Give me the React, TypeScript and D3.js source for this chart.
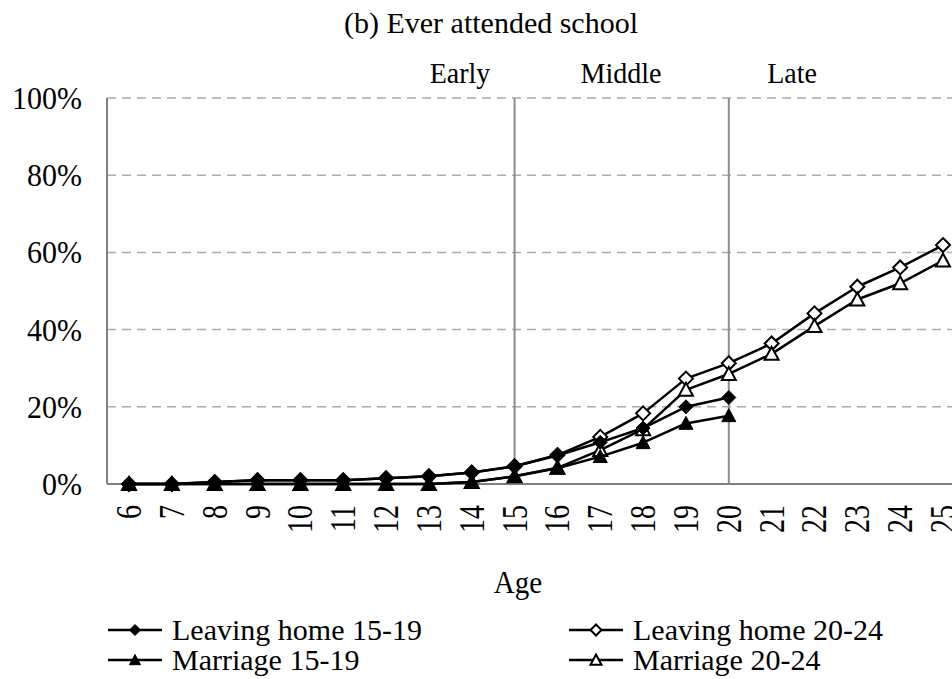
import React from "react";
import * as d3 from "d3";

const ages = [6, 7, 8, 9, 10, 11, 12, 13, 14, 15, 16, 17, 18, 19, 20, 21, 22, 23, 24, 25];
const leaving1519 = [0, 0, 0.5, 1, 1, 1, 1.5, 2, 3, 4.6, 7.4, 10.8, 14.5, 20, 22.4];
const leaving2024 = [0, 0, 0.5, 1, 1, 1, 1.5, 2, 3, 4.6, 7.5, 12.2, 18.3, 27.3, 31.3, 36.4, 44.2, 51.1, 56.1, 61.9];
const marriage1519 = [0, 0, 0, 0, 0, 0, 0, 0, 0.5, 2, 4.1, 7.1, 10.7, 15.7, 17.7];
const marriage2024 = [0, 0, 0, 0, 0, 0, 0, 0, 0.5, 2, 4.2, 8.8, 14.2, 24.4, 28.5, 33.7, 40.9, 47.8, 52, 57.9];
const yTicks = [0, 20, 40, 60, 80, 100];
const stageLabels = ["Early", "Middle", "Late"];
const stageCenters = [460, 621, 792];
const stageBounds = [15, 20];

type Series = { name: string; values: number[]; shape: "diamond" | "triangle"; filled: boolean };
const series: Series[] = [
  { name: "Leaving home 20-24", values: leaving2024, shape: "diamond", filled: false },
  { name: "Marriage 20-24", values: marriage2024, shape: "triangle", filled: false },
  { name: "Leaving home 15-19", values: leaving1519, shape: "diamond", filled: true },
  { name: "Marriage 15-19", values: marriage1519, shape: "triangle", filled: true },
];
const legendOrder = ["Leaving home 15-19", "Leaving home 20-24", "Marriage 15-19", "Marriage 20-24"];

const FONT = "'Liberation Serif', 'Times New Roman', serif";

function Marker({ x, y, shape, filled, size }: { x: number; y: number; shape: string; filled: boolean; size: number }) {
  const h = size / 2;
  const d =
    shape === "diamond"
      ? `M${x},${y - h}L${x + h},${y}L${x},${y + h}L${x - h},${y}Z`
      : `M${x},${y - h}L${x + h},${y + h * 0.85}L${x - h},${y + h * 0.85}Z`;
  return <path d={d} fill={filled ? "#000" : "#fff"} stroke="#000" strokeWidth={filled ? 1 : 2} strokeLinejoin="miter" />;
}

export default function App() {
  const W = 952, H = 679;
  const x = d3.scalePoint<number>().domain(ages).range([129, 943]);
  const y = d3.scaleLinear().domain([0, 100]).range([484, 98]);
  const left = 107;
  const line = d3
    .line<number>()
    .x((_, i) => x(ages[i]) as number)
    .y((v) => y(v));

  return (
    <svg width={W} height={H} style={{ position: "absolute", left: 0, top: 0, background: "#fff" }} fontFamily={FONT}>
      <rect width={W} height={H} fill="#fff" />
      {yTicks.filter((t) => t > 0).map((t) => (
        <line key={t} x1={left} x2={W} y1={y(t)} y2={y(t)} stroke="#ababab" strokeWidth={1.5} strokeDasharray="9,6" />
      ))}
      <line x1={left} x2={left} y1={y(100)} y2={y(0)} stroke="#808080" strokeWidth={2} />
      <line x1={left} x2={W} y1={y(0)} y2={y(0)} stroke="#808080" strokeWidth={2} />
      {stageBounds.map((a) => (
        <line key={a} x1={x(a)} x2={x(a)} y1={y(100)} y2={y(0)} stroke="#8c8c8c" strokeWidth={2} />
      ))}
      {yTicks.map((t) => (
        <text key={t} transform={`translate(82,${y(t) + 11}) scale(1,1.08)`} textAnchor="end" fontSize={30} fill="#000">
          {t}%
        </text>
      ))}
      {ages.map((a) => (
        <text
          key={a}
          transform={`translate(${(x(a) as number) + 12},505) scale(1.3,1) rotate(-90)`}
          textAnchor="end"
          fontSize={28}
          fill="#000"
        >
          {a}
        </text>
      ))}
      <text x={491} y={33} textAnchor="middle" fontSize={30} fill="#000">
        (b) Ever attended school
      </text>
      {stageLabels.map((s, i) => (
        <text key={s} transform={`translate(${stageCenters[i]},83) scale(1,1.05)`} textAnchor="middle" fontSize={28} fill="#000">
          {s}
        </text>
      ))}
      <text transform="translate(518,593) scale(1,1.1)" textAnchor="middle" fontSize={29} fill="#000">
        Age
      </text>
      {series.map((s) => (
        <g key={s.name}>
          <path d={line(s.values) || ""} fill="none" stroke="#000" strokeWidth={2.5} strokeLinejoin="round" />
          {s.values.map((v, i) => (
            <Marker key={i} x={x(ages[i]) as number} y={y(v)} shape={s.shape} filled={s.filled} size={14} />
          ))}
        </g>
      ))}
      {legendOrder.map((name, i) => {
        const s = series.find((d) => d.name === name)!;
        const col = i % 2;
        const row = Math.floor(i / 2);
        const lx = col === 0 ? 108 : 569;
        const ly = row === 0 ? 630 : 660;
        return (
          <g key={name}>
            <line x1={lx} x2={lx + 54} y1={ly} y2={ly} stroke="#000" strokeWidth={2.5} />
            <Marker x={lx + 27} y={ly} shape={s.shape} filled={s.filled} size={11} />
            <text x={lx + 64} y={ly + 10} fontSize={30} fill="#000">
              {name}
            </text>
          </g>
        );
      })}
    </svg>
  );
}
